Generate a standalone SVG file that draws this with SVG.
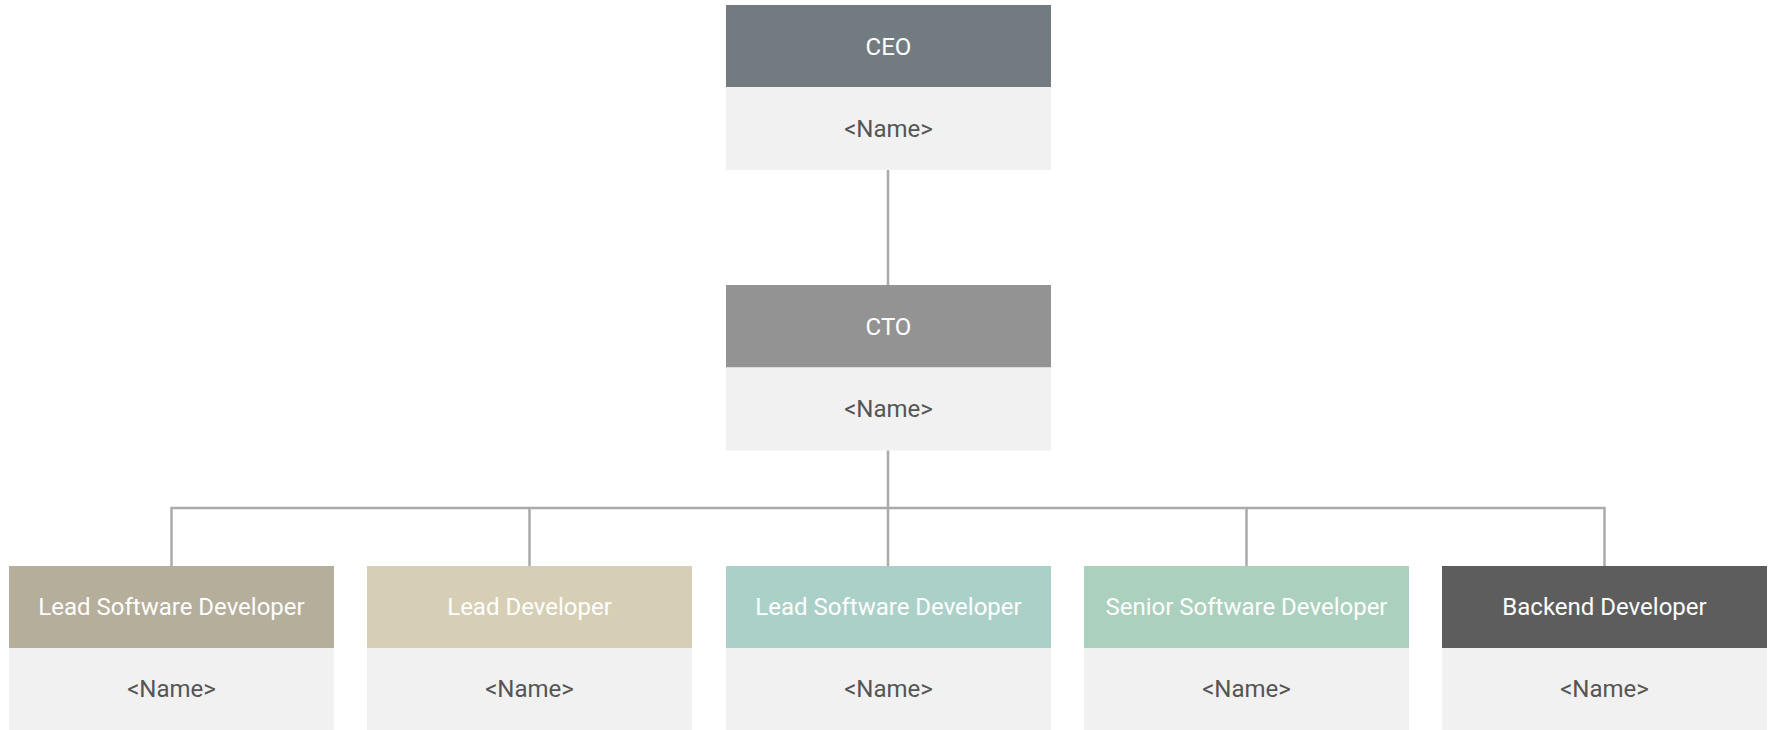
<svg xmlns="http://www.w3.org/2000/svg" width="1771" height="730" viewBox="0 0 1771 730">
  <style>
    .hd { font-family: Roboto, "Liberation Sans", sans-serif; font-size: 24px; fill: #ffffff; text-anchor: middle; dominant-baseline: central; }
    .nm { font-family: Roboto, "Liberation Sans", sans-serif; font-size: 24px; fill: #555555; text-anchor: middle; dominant-baseline: central; }
    .body { fill: #f1f1f1; }
    .link { fill: none; stroke: #aaaaaa; stroke-width: 2.5; }
  </style>
  <rect width="1771" height="730" fill="#ffffff"/>

  <g id="connectors">
    <line class="link" x1="888" y1="170" x2="888" y2="285"/>
    <line class="link" x1="888" y1="450" x2="888" y2="566"/>
    <polyline class="link" points="171.5,566 171.5,508 1604.5,508 1604.5,566"/>
    <line class="link" x1="529.5" y1="508" x2="529.5" y2="566"/>
    <line class="link" x1="1246.5" y1="508" x2="1246.5" y2="566"/>
  </g>

  <g id="ceo">
    <rect x="726" y="5" width="325" height="82" fill="#727c80"/>
    <rect class="body" x="726" y="87" width="325" height="83"/>
    <text class="hd" x="888.5" y="46.5">CEO</text>
    <text class="nm" x="888.5" y="129">&lt;Name&gt;</text>
  </g>

  <g id="cto">
    <rect x="726" y="285" width="325" height="82.5" fill="#939393"/>
    <rect class="body" x="726" y="367.5" width="325" height="83"/>
    <text class="hd" x="888.5" y="326.5">CTO</text>
    <text class="nm" x="888.5" y="409">&lt;Name&gt;</text>
  </g>

  <g id="lead-software-developer-1">
    <rect x="9" y="566" width="325" height="82" fill="#b5ae9b"/>
    <rect class="body" x="9" y="648" width="325" height="82"/>
    <text class="hd" x="171.5" y="607">Lead Software Developer</text>
    <text class="nm" x="171.5" y="689">&lt;Name&gt;</text>
  </g>

  <g id="lead-developer">
    <rect x="367" y="566" width="325" height="82" fill="#d6cfb5"/>
    <rect class="body" x="367" y="648" width="325" height="82"/>
    <text class="hd" x="529.5" y="607">Lead Developer</text>
    <text class="nm" x="529.5" y="689">&lt;Name&gt;</text>
  </g>

  <g id="lead-software-developer-2">
    <rect x="726" y="566" width="325" height="82" fill="#abd0c8"/>
    <rect class="body" x="726" y="648" width="325" height="82"/>
    <text class="hd" x="888.5" y="607">Lead Software Developer</text>
    <text class="nm" x="888.5" y="689">&lt;Name&gt;</text>
  </g>

  <g id="senior-software-developer">
    <rect x="1084" y="566" width="325" height="82" fill="#abd0be"/>
    <rect class="body" x="1084" y="648" width="325" height="82"/>
    <text class="hd" x="1246.5" y="607">Senior Software Developer</text>
    <text class="nm" x="1246.5" y="689">&lt;Name&gt;</text>
  </g>

  <g id="backend-developer">
    <rect x="1442" y="566" width="325" height="82" fill="#5d5d5d"/>
    <rect class="body" x="1442" y="648" width="325" height="82"/>
    <text class="hd" x="1604.5" y="607">Backend Developer</text>
    <text class="nm" x="1604.5" y="689">&lt;Name&gt;</text>
  </g>
</svg>
